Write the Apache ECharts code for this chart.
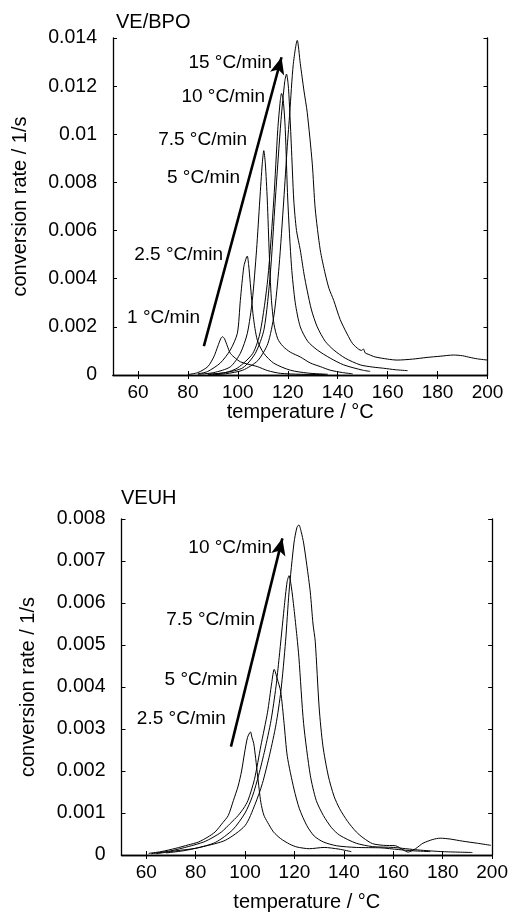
<!DOCTYPE html>
<html>
<head>
<meta charset="utf-8">
<script src="https://cdn.jsdelivr.net/npm/echarts@6/dist/echarts.min.js"></script>
<style>
html,body{margin:0;padding:0;background:#fff;}
#c{width:511px;height:913px;}
</style>
</head>
<body>
<div id="c"></div>
<script>
// ---------- DATA ----------
var xTicks = [60, 80, 100, 120, 140, 160, 180, 200];
var titles = ['VE/BPO', 'VEUH'];
var xName = 'temperature / °C';
var yName = 'conversion rate / 1/s';

// VE/BPO curves: [temperature °C, conversion rate 1/s]
var bpo1 = [[80,0.00002],[84,0.0001],[88,0.00035],[90.4,0.00076],[92,0.0012],[93.2,0.00152],[93.8,0.00159],[94.6,0.00152],[95.8,0.0012],[97,0.0009],[99,0.0007],[101,0.00055],[104,0.00045],[107.8,0.00035],[112,0.00018],[117,0.00007],[125,0.00003],[135,0.00002]];
var bpo2_5 = [[84,0.00005],[87.8,0.00014],[93,0.0005],[97,0.00104],[99.8,0.00173],[101,0.0031],[102.4,0.0045],[103.5,0.0049],[103.8,0.00494],[104.3,0.0046],[105,0.0038],[106.2,0.00242],[107.8,0.00145],[110.4,0.0009],[114.4,0.00049],[121,0.0002],[128,0.00008],[136,0.00003]];
var bpo5 = [[84,0.00003],[90.4,0.0001],[97,0.00034],[101,0.0009],[103.8,0.00173],[105.8,0.0031],[107.5,0.0052],[108.8,0.00727],[109.8,0.0088],[110.4,0.00932],[111,0.0088],[111.8,0.00727],[112.6,0.005],[113.4,0.0032],[114.5,0.0021],[116,0.0015],[118,0.0012],[121,0.00095],[125,0.00075],[129,0.0005],[133,0.00035],[137,0.0002],[142,0.0001],[146,0.00005]];
var bpo7_5 = [[88,0.00003],[95,0.0001],[100,0.0003],[106,0.0009],[109,0.0018],[112,0.004],[114.4,0.00727],[116,0.0102],[117,0.0114],[117.5,0.0117],[118.2,0.0114],[119,0.0102],[120,0.00727],[121.5,0.0045],[123,0.003],[125,0.002],[128,0.0014],[131.8,0.00104],[137,0.0007],[142.4,0.00042],[150,0.0002],[153,0.00015]];
var bpo10 = [[88,0.00002],[95,0.0001],[102,0.0003],[107,0.0009],[110.5,0.0019],[113,0.0042],[115,0.00727],[117.3,0.0106],[118.8,0.0122],[119.5,0.0125],[120.3,0.0119],[121.4,0.0096],[122.4,0.00727],[123.5,0.006],[125,0.0052],[126.5,0.0042],[127.8,0.0035],[129.5,0.0027],[131.8,0.002],[135,0.0014],[138.4,0.00104],[143,0.0007],[149,0.00042],[154,0.00033],[158.4,0.00028],[163,0.00022],[168,0.00018]];
var bpo15 = [[90,0.00001],[95,0.00005],[102,0.0002],[108,0.0006],[112,0.0013],[114.5,0.0025],[116.5,0.0045],[118.4,0.00727],[119.8,0.0095],[120.8,0.0109],[122.2,0.0129],[123.8,0.0139],[125,0.01295],[126.5,0.0118],[127.8,0.0109],[129.8,0.0088],[131,0.0069],[133,0.0052],[135,0.0042],[136.5,0.0036],[138.4,0.0031],[141,0.0023],[143.8,0.0017],[146,0.0013],[148.4,0.00107],[149.5,0.00102],[150.3,0.00108],[151,0.00092],[152.5,0.00085],[155,0.00075],[160,0.00066],[163.8,0.00062],[170,0.00066],[175.8,0.00073],[181,0.00078],[186.4,0.00083],[190,0.0008],[193,0.00073],[196,0.00067],[200,0.00062]];

// VEUH curves
var uh2_5 = [[61,0.00004],[66,0.00008],[72,0.00016],[77,0.00024],[81.2,0.00031],[85,0.00043],[87.9,0.00055],[91,0.00077],[93.2,0.00094],[95.3,0.0013],[97.2,0.00164],[98.6,0.002],[99.8,0.00243],[101,0.0028],[102.2,0.00293],[102.8,0.0028],[103.5,0.00266],[104.3,0.0023],[105.1,0.00188],[106.4,0.00125],[107.6,0.00095],[109.1,0.00078],[111.5,0.00055],[114.4,0.00039],[118,0.00026],[121,0.00019],[126,0.00015],[132,0.00018],[138,0.00014],[143,0.00008]];
var uh5 = [[62,0.00003],[70,0.0001],[77,0.0002],[83.3,0.00031],[87,0.00042],[90.5,0.00055],[94,0.00075],[97.2,0.00094],[99.5,0.00112],[101.2,0.0013],[103.8,0.0018],[106.4,0.0026],[109.1,0.0034],[110.8,0.0041],[111.8,0.00442],[113,0.0042],[114.4,0.0039],[115.8,0.00313],[117.1,0.00235],[119.8,0.00157],[122,0.0011],[125,0.0007],[128,0.00045],[131.7,0.00031],[137,0.00022],[145,0.00018],[155,0.00017],[162,0.00013],[168,0.0001],[175,0.00008]];
var uh7_5 = [[64,0.00003],[72,0.0001],[80,0.00016],[88,0.0003],[95,0.0006],[100,0.001],[103,0.0014],[105.5,0.0019],[108,0.0025],[110.5,0.0032],[112.5,0.004],[113.8,0.0047],[115.8,0.00587],[117,0.0065],[117.8,0.00665],[118.7,0.0064],[119.8,0.00587],[121,0.0052],[121.8,0.0047],[123.7,0.00313],[126.4,0.0019],[128.8,0.0013],[131.7,0.00094],[135,0.00065],[138.3,0.00047],[145,0.00028],[151.6,0.0002],[160,0.00018],[170,0.00012],[180,0.00008],[192,0.00006]];
var uh10 = [[68,0.00005],[75,0.0001],[83,0.0002],[92,0.00035],[100,0.0007],[104,0.0012],[107,0.0017],[110,0.0024],[112.5,0.0031],[114.5,0.0039],[116.4,0.00509],[117.8,0.00626],[119.8,0.00743],[121,0.0078],[121.8,0.00786],[122.7,0.0077],[123.7,0.00743],[125,0.0069],[126.4,0.00626],[127.5,0.0055],[128.4,0.00509],[130,0.0035],[131.5,0.0026],[133.7,0.00188],[136,0.0014],[138.3,0.0011],[141.5,0.0008],[145,0.00055],[148,0.0004],[151.6,0.00027],[156,0.00023],[160.9,0.00022],[164,0.00012],[166,0.00007],[169,0.00015],[172,0.00028],[176,0.00037],[179,0.0004],[183,0.00038],[188,0.00033],[194,0.00028],[199.5,0.00023]];

// annotation labels: [T, rate, text] (right end of text)
var bpoLabels = [[113.9,0.01296,'15 °C/min'],[111.1,0.01155,'10 °C/min'],[103.9,0.00976,'7.5 °C/min'],[101.1,0.00818,'5 °C/min'],[94.3,0.00499,'2.5 °C/min'],[85.1,0.00237,'1 °C/min']];
var uhLabels = [[111.1,0.00732,'10 °C/min'],[104.3,0.00559,'7.5 °C/min'],[97.2,0.00418,'5 °C/min'],[92.4,0.00324,'2.5 °C/min']];
// arrows: [startT, startRate, endT, endRate]
var bpoArrow = [86.4, 0.0012, 117.5, 0.0132];
var uhArrow = [94.3, 0.00258, 115.1, 0.00754];

// ---------- CHART ----------
var FONT = "'Liberation Sans', Arial, Helvetica, sans-serif";
var chart = echarts.init(document.getElementById('c'), null, {renderer: 'canvas'});

function xAxes(gi) {
  return [
    {type:'value', gridIndex:gi, position:'bottom', min:50, max:200,
     axisLine:{lineStyle:{color:'#000', width:1.3}},
     axisTick:{inside:true, length:4, customValues:xTicks, lineStyle:{color:'#000'}},
     axisLabel:{customValues:xTicks, color:'#000', fontSize:19, fontFamily:FONT, margin:8},
     splitLine:{show:false},
     name:xName, nameLocation:'middle', nameGap: gi===0 ? 26 : 37,
     nameTextStyle:{color:'#000', fontSize:20, fontFamily:FONT}},
    {type:'value', gridIndex:gi, position:'top', min:50, max:200,
     axisLine:{lineStyle:{color:'#000', width:1.3}},
     axisTick:{inside:true, length:4, customValues:xTicks, lineStyle:{color:'#000'}},
     axisLabel:{show:false}, splitLine:{show:false}}
  ];
}
function yAxes(gi, max, interval) {
  return [
    {type:'value', gridIndex:gi, position:'left', min:0, max:max, interval:interval,
     axisLine:{show:true, lineStyle:{color:'#000', width:1.3}},
     axisTick:{show:true, inside:true, length:4, lineStyle:{color:'#000'}},
     axisLabel:{color:'#000', fontSize:19.5, fontFamily:FONT, margin:16},
     splitLine:{show:false},
     name:yName, nameLocation:'middle', nameGap: gi===0 ? 83 : 83,
     nameTextStyle:{color:'#000', fontSize:20, fontFamily:FONT}},
    {type:'value', gridIndex:gi, position:'right', min:0, max:max, interval:interval,
     axisLine:{show:true, lineStyle:{color:'#000', width:1.3}},
     axisTick:{show:true, inside:true, length:4, lineStyle:{color:'#000'}},
     axisLabel:{show:false}, splitLine:{show:false}}
  ];
}
function curve(data, xi, yi) {
  return {type:'line', xAxisIndex:xi, yAxisIndex:yi, data:data, showSymbol:false,
          symbol:'none', smooth:0.25, lineStyle:{color:'#000', width:1}, silent:true, animation:false};
}
function labelSeries(labels, arrow, xi, yi) {
  return {type:'scatter', xAxisIndex:xi, yAxisIndex:yi, symbolSize:1, silent:true, animation:false,
    itemStyle:{color:'rgba(0,0,0,0)', opacity:1},
    data: labels.map(function(l){ return {value:[l[0], l[1]], name:l[2]}; }),
    label:{show:true, position:'left', distance:0, formatter:'{b}', color:'#000', opacity:1,
           textBorderWidth:0, fontSize:19, fontFamily:FONT},
    markLine:{silent:true, animation:false, symbol:['none','arrow'], symbolSize:[11,17],
      label:{show:false}, lineStyle:{color:'#000', width:2.6, type:'solid', opacity:1},
      itemStyle:{color:'#000'},
      emphasis:{disabled:true},
      data:[[{coord:[arrow[0], arrow[1]]},{coord:[arrow[2], arrow[3]]}]]}
  };
}

var option = {
  animation:false,
  backgroundColor:'#fff',
  textStyle:{fontFamily:FONT},
  title:[
    {text:titles[0], left:116, top:12, textStyle:{fontSize:20, fontWeight:'normal', color:'#000', fontFamily:FONT}, padding:0},
    {text:titles[1], left:121, top:488, textStyle:{fontSize:20, fontWeight:'normal', color:'#000', fontFamily:FONT}, padding:0}
  ],
  grid:[
    {left:113, right:23.5, top:38, height:337},
    {left:121.5, right:13, top:519, height:341}
  ],
  xAxis: xAxes(0).concat(xAxes(1)),
  yAxis: yAxes(0, 0.014, 0.002).concat(yAxes(1, 0.008, 0.001)),
  series:[
    curve(bpo1,0,0), curve(bpo2_5,0,0), curve(bpo5,0,0), curve(bpo7_5,0,0), curve(bpo10,0,0), curve(bpo15,0,0),
    labelSeries(bpoLabels, bpoArrow, 0, 0),
    curve(uh2_5,2,2), curve(uh5,2,2), curve(uh7_5,2,2), curve(uh10,2,2),
    labelSeries(uhLabels, uhArrow, 2, 2)
  ]
};
chart.setOption(option);
</script>
</body>
</html>
